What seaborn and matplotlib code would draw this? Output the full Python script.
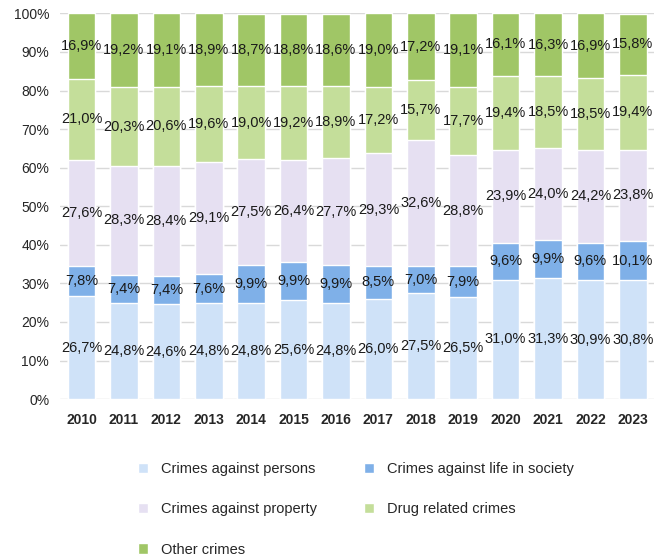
import pandas as pd
import matplotlib
matplotlib.use('Agg')
import matplotlib.pyplot as plt
import numpy as np
import seaborn as sns

## Data (percent share of each crime type per year)
years = ['2010', '2011', '2012', '2013', '2014', '2015', '2016',
         '2017', '2018', '2019', '2020', '2021', '2022', '2023']
persons = [26.7, 24.8, 24.6, 24.8, 24.8, 25.6, 24.8, 26.0, 27.5, 26.5, 31.0, 31.3, 30.9, 30.8]
life_society = [7.8, 7.4, 7.4, 7.6, 9.9, 9.9, 9.9, 8.5, 7.0, 7.9, 9.6, 9.9, 9.6, 10.1]
property_ = [27.6, 28.3, 28.4, 29.1, 27.5, 26.4, 27.7, 29.3, 32.6, 28.8, 23.9, 24.0, 24.2, 23.8]
drugs = [21.0, 20.3, 20.6, 19.6, 19.0, 19.2, 18.9, 17.2, 15.7, 17.7, 19.4, 18.5, 18.5, 19.4]
other = [16.9, 19.2, 19.1, 18.9, 18.7, 18.8, 18.6, 19.0, 17.2, 19.1, 16.1, 16.3, 16.9, 15.8]

series_names = ['Crimes against persons', 'Crimes against life in society',
                'Crimes against property', 'Drug related crimes', 'Other crimes']
series_vals = [persons, life_society, property_, drugs, other]
colors = ['#cfe2f8', '#7fb0e8', '#e6e0f2', '#c4de9a', '#a0c666']

sns.set_style('white')
plt.rcParams['font.family'] = ['Liberation Sans', 'DejaVu Sans']

fig = plt.figure(figsize=(6.56, 5.59), dpi=100)
ax = fig.add_axes([0.092, 0.286, 0.905, 0.69])

# cumulative tops, drawn from the top series down so each one covers the rest
cum = np.cumsum(np.array(series_vals), axis=0)
for i in range(len(series_names) - 1, -1, -1):
    df = pd.DataFrame({'year': years, 'value': cum[i]})
    sns.barplot(data=df, x='year', y='value', color=colors[i], width=0.65,
                saturation=1, ax=ax, label=series_names[i], zorder=2)

# segment labels
for i in range(len(series_names)):
    bottoms = cum[i] - np.array(series_vals[i])
    for j, v in enumerate(series_vals[i]):
        ax.text(j, bottoms[j] + v / 2, '{:.1f}%'.format(v).replace('.', ','),
                ha='center', va='center', fontsize=10.5, color='#1a1a1a', zorder=3)

ax.set_ylim(0, 100)
ax.set_xlim(-0.5, 13.5)
ax.set_yticks(np.arange(0, 101, 10))
ax.set_yticklabels(['{}%'.format(t) for t in range(0, 101, 10)], fontsize=10)
ax.tick_params(axis='x', labelsize=10, length=0, pad=10)
ax.tick_params(axis='y', length=0, pad=8)
for lab in ax.get_xticklabels():
    lab.set_fontweight('bold')
ax.set_xlabel('')
ax.set_ylabel('')
ax.yaxis.grid(True, color='#d9d9d9', linewidth=1, zorder=0)
ax.set_axisbelow(True)
sns.despine(ax=ax, left=True, bottom=True)

# legend: filled column by column, so order it to read row by row
handles, labels = ax.get_legend_handles_labels()
leg_order = ['Crimes against persons', 'Crimes against property', 'Other crimes',
             'Crimes against life in society', 'Drug related crimes']
idx = [labels.index(n) for n in leg_order]
if ax.get_legend():
    ax.get_legend().remove()
fig.legend([handles[k] for k in idx], [labels[k] for k in idx],
           loc='upper left', bbox_to_anchor=(0.19, 0.197), ncol=2, frameon=False,
           fontsize=10.5, handlelength=0.7, handleheight=0.7, handletextpad=0.9,
           labelspacing=1.8, columnspacing=3.2)

plt.savefig('out.png', dpi=100)
